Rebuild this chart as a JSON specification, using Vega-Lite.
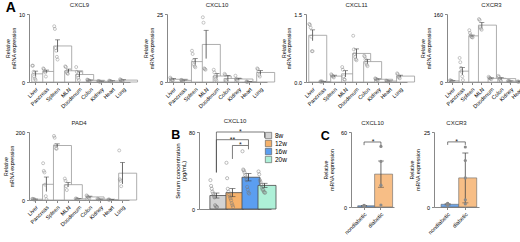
{
"$schema": "https://vega.github.io/schema/vega-lite/v6.json",
"background": "white",
"padding": {"left": 3, "top": 1, "right": 2, "bottom": 0},
"config": {
  "font": "Liberation Sans",
  "view": {"stroke": null},
  "axis": {"labelFontSize": 5.5, "titleFontSize": 5.2, "titleFontWeight": "normal", "grid": false, "tickSize": 2.5},
  "title": {"fontSize": 6, "fontWeight": "normal", "offset": 4, "color": "#222"},
  "concat": {"spacing": 4}
},
"datasets": {
  "tb": [
    {"g":"CXCL9","t":"Liver","m":1.2,"lo":0.8,"hi":1.6},
    {"g":"CXCL9","t":"Pancreas","m":1.55,"lo":1.35,"hi":1.75},
    {"g":"CXCL9","t":"Spleen","m":5.3,"lo":4.4,"hi":6.2},
    {"g":"CXCL9","t":"MLN","m":1.65,"lo":1.4,"hi":1.9},
    {"g":"CXCL9","t":"Duodenum","m":1.1,"lo":0.7,"hi":1.5},
    {"g":"CXCL9","t":"Colon","m":0.25,"lo":0.2,"hi":0.3},
    {"g":"CXCL9","t":"Kidney","m":0.1,"lo":0.07,"hi":0.13},
    {"g":"CXCL9","t":"Heart","m":0.15,"lo":0.12,"hi":0.18},
    {"g":"CXCL9","t":"Lung","m":0.28,"lo":0.22,"hi":0.34},
    {"g":"CXCL10","t":"Liver","m":1.0,"lo":0.7,"hi":1.3},
    {"g":"CXCL10","t":"Pancreas","m":0.6,"lo":0.45,"hi":0.75},
    {"g":"CXCL10","t":"Spleen","m":7.5,"lo":6.4,"hi":8.6},
    {"g":"CXCL10","t":"MLN","m":13.8,"lo":8.6,"hi":19.0},
    {"g":"CXCL10","t":"Duodenum","m":2.2,"lo":1.3,"hi":3.1},
    {"g":"CXCL10","t":"Colon","m":1.3,"lo":0.3,"hi":2.4},
    {"g":"CXCL10","t":"Kidney","m":1.1,"lo":0.8,"hi":1.4},
    {"g":"CXCL10","t":"Heart","m":0.1,"lo":0.05,"hi":0.15},
    {"g":"CXCL10","t":"Lung","m":3.5,"lo":2.8,"hi":4.2},
    {"g":"CXCL11","t":"Liver","m":1.03,"lo":0.91,"hi":1.15},
    {"g":"CXCL11","t":"Pancreas","m":0.01,"lo":0.005,"hi":0.015},
    {"g":"CXCL11","t":"Spleen","m":0.13,"lo":0.11,"hi":0.15},
    {"g":"CXCL11","t":"MLN","m":0.18,"lo":0.11,"hi":0.25},
    {"g":"CXCL11","t":"Duodenum","m":0.63,"lo":0.53,"hi":0.73},
    {"g":"CXCL11","t":"Colon","m":0.45,"lo":0.4,"hi":0.5},
    {"g":"CXCL11","t":"Kidney","m":0.06,"lo":0.05,"hi":0.07},
    {"g":"CXCL11","t":"Heart","m":0.02,"lo":0.015,"hi":0.025},
    {"g":"CXCL11","t":"Lung","m":0.13,"lo":0.11,"hi":0.15},
    {"g":"CXCR3","t":"Liver","m":1.2,"lo":0.9,"hi":1.5},
    {"g":"CXCR3","t":"Pancreas","m":11.5,"lo":7.5,"hi":15.5},
    {"g":"CXCR3","t":"Spleen","m":52,"lo":48,"hi":56},
    {"g":"CXCR3","t":"MLN","m":105,"lo":92,"hi":118},
    {"g":"CXCR3","t":"Duodenum","m":3.9,"lo":3.4,"hi":4.4},
    {"g":"CXCR3","t":"Colon","m":3.6,"lo":2.6,"hi":4.6},
    {"g":"CXCR3","t":"Kidney","m":0.9,"lo":0.7,"hi":1.1},
    {"g":"CXCR3","t":"Heart","m":0.4,"lo":0.3,"hi":0.5},
    {"g":"CXCR3","t":"Lung","m":11.5,"lo":9.5,"hi":13.5},
    {"g":"PAD4","t":"Liver","m":1.0,"lo":0.8,"hi":1.2},
    {"g":"PAD4","t":"Pancreas","m":20.5,"lo":11,"hi":30},
    {"g":"PAD4","t":"Spleen","m":118,"lo":108,"hi":128},
    {"g":"PAD4","t":"MLN","m":20,"lo":17,"hi":23},
    {"g":"PAD4","t":"Duodenum","m":1.5,"lo":1.1,"hi":1.9},
    {"g":"PAD4","t":"Colon","m":4,"lo":3,"hi":5},
    {"g":"PAD4","t":"Kidney","m":1.0,"lo":0.7,"hi":1.3},
    {"g":"PAD4","t":"Heart","m":0.5,"lo":0.4,"hi":0.6},
    {"g":"PAD4","t":"Lung","m":35,"lo":21,"hi":49}
  ],
  "tp": [
    {"g":"CXCL9","t":"Liver","r":1,"v":2.4},{"g":"CXCL9","t":"Liver","r":2,"v":2.4},{"g":"CXCL9","t":"Liver","r":3,"v":1.5},{"g":"CXCL9","t":"Liver","r":4,"v":0.8},{"g":"CXCL9","t":"Liver","r":5,"v":0.5},{"g":"CXCL9","t":"Liver","r":6,"v":0.3},
    {"g":"CXCL9","t":"Pancreas","r":1,"v":2.0},{"g":"CXCL9","t":"Pancreas","r":2,"v":1.9},{"g":"CXCL9","t":"Pancreas","r":3,"v":1.6},{"g":"CXCL9","t":"Pancreas","r":4,"v":1.4},{"g":"CXCL9","t":"Pancreas","r":5,"v":0.8},
    {"g":"CXCL9","t":"Spleen","r":1,"v":8.2},{"g":"CXCL9","t":"Spleen","r":2,"v":7.8},{"g":"CXCL9","t":"Spleen","r":3,"v":5.0},{"g":"CXCL9","t":"Spleen","r":4,"v":4.6},{"g":"CXCL9","t":"Spleen","r":5,"v":3.7},{"g":"CXCL9","t":"Spleen","r":6,"v":3.3},
    {"g":"CXCL9","t":"MLN","r":1,"v":2.3},{"g":"CXCL9","t":"MLN","r":2,"v":2.2},{"g":"CXCL9","t":"MLN","r":3,"v":1.5},{"g":"CXCL9","t":"MLN","r":4,"v":1.3},{"g":"CXCL9","t":"MLN","r":5,"v":1.2},
    {"g":"CXCL9","t":"Duodenum","r":1,"v":2.2},{"g":"CXCL9","t":"Duodenum","r":2,"v":1.5},{"g":"CXCL9","t":"Duodenum","r":3,"v":1.0},{"g":"CXCL9","t":"Duodenum","r":4,"v":0.6},{"g":"CXCL9","t":"Duodenum","r":5,"v":0.3},
    {"g":"CXCL9","t":"Colon","r":1,"v":0.35},{"g":"CXCL9","t":"Colon","r":2,"v":0.3},{"g":"CXCL9","t":"Colon","r":3,"v":0.25},{"g":"CXCL9","t":"Colon","r":4,"v":0.2},{"g":"CXCL9","t":"Colon","r":5,"v":0.15},
    {"g":"CXCL9","t":"Kidney","r":1,"v":0.15},{"g":"CXCL9","t":"Kidney","r":2,"v":0.1},{"g":"CXCL9","t":"Kidney","r":3,"v":0.08},{"g":"CXCL9","t":"Kidney","r":4,"v":0.05},
    {"g":"CXCL9","t":"Heart","r":1,"v":0.2},{"g":"CXCL9","t":"Heart","r":2,"v":0.15},{"g":"CXCL9","t":"Heart","r":3,"v":0.12},{"g":"CXCL9","t":"Heart","r":4,"v":0.1},
    {"g":"CXCL9","t":"Lung","r":1,"v":0.4},{"g":"CXCL9","t":"Lung","r":2,"v":0.3},{"g":"CXCL9","t":"Lung","r":3,"v":0.25},{"g":"CXCL9","t":"Lung","r":4,"v":0.2},{"g":"CXCL9","t":"Lung","r":5,"v":0.15},
    {"g":"CXCL10","t":"Liver","r":1,"v":1.6},{"g":"CXCL10","t":"Liver","r":2,"v":1.2},{"g":"CXCL10","t":"Liver","r":3,"v":0.9},{"g":"CXCL10","t":"Liver","r":4,"v":0.7},{"g":"CXCL10","t":"Liver","r":5,"v":0.6},
    {"g":"CXCL10","t":"Pancreas","r":1,"v":0.8},{"g":"CXCL10","t":"Pancreas","r":2,"v":0.6},{"g":"CXCL10","t":"Pancreas","r":3,"v":0.5},{"g":"CXCL10","t":"Pancreas","r":4,"v":0.4},
    {"g":"CXCL10","t":"Spleen","r":1,"v":11.5},{"g":"CXCL10","t":"Spleen","r":2,"v":10.3},{"g":"CXCL10","t":"Spleen","r":3,"v":7.8},{"g":"CXCL10","t":"Spleen","r":4,"v":6.4},{"g":"CXCL10","t":"Spleen","r":5,"v":5.8},{"g":"CXCL10","t":"Spleen","r":6,"v":5.4},
    {"g":"CXCL10","t":"MLN","r":1,"v":23.8},{"g":"CXCL10","t":"MLN","r":2,"v":21.8},{"g":"CXCL10","t":"MLN","r":3,"v":5.0},{"g":"CXCL10","t":"MLN","r":4,"v":4.8},{"g":"CXCL10","t":"MLN","r":5,"v":4.5},
    {"g":"CXCL10","t":"Duodenum","r":1,"v":4.5},{"g":"CXCL10","t":"Duodenum","r":2,"v":3.5},{"g":"CXCL10","t":"Duodenum","r":3,"v":2.0},{"g":"CXCL10","t":"Duodenum","r":4,"v":1.0},{"g":"CXCL10","t":"Duodenum","r":5,"v":0.5},
    {"g":"CXCL10","t":"Colon","r":1,"v":3.0},{"g":"CXCL10","t":"Colon","r":2,"v":2.6},{"g":"CXCL10","t":"Colon","r":3,"v":0.5},{"g":"CXCL10","t":"Colon","r":4,"v":0.2},
    {"g":"CXCL10","t":"Kidney","r":1,"v":2.3},{"g":"CXCL10","t":"Kidney","r":2,"v":1.2},{"g":"CXCL10","t":"Kidney","r":3,"v":0.8},{"g":"CXCL10","t":"Kidney","r":4,"v":0.6},
    {"g":"CXCL10","t":"Heart","r":1,"v":0.15},{"g":"CXCL10","t":"Heart","r":2,"v":0.1},{"g":"CXCL10","t":"Heart","r":3,"v":0.05},
    {"g":"CXCL10","t":"Lung","r":1,"v":5.0},{"g":"CXCL10","t":"Lung","r":2,"v":4.7},{"g":"CXCL10","t":"Lung","r":3,"v":3.8},{"g":"CXCL10","t":"Lung","r":4,"v":2.5},{"g":"CXCL10","t":"Lung","r":5,"v":2.0},
    {"g":"CXCL11","t":"Liver","r":1,"v":1.28},{"g":"CXCL11","t":"Liver","r":2,"v":1.26},{"g":"CXCL11","t":"Liver","r":3,"v":1.2},{"g":"CXCL11","t":"Liver","r":4,"v":1.0},{"g":"CXCL11","t":"Liver","r":5,"v":0.68},{"g":"CXCL11","t":"Liver","r":6,"v":0.68},
    {"g":"CXCL11","t":"Pancreas","r":1,"v":0.01},{"g":"CXCL11","t":"Pancreas","r":2,"v":0.01},{"g":"CXCL11","t":"Pancreas","r":3,"v":0.01},{"g":"CXCL11","t":"Pancreas","r":4,"v":0.01},
    {"g":"CXCL11","t":"Spleen","r":1,"v":0.17},{"g":"CXCL11","t":"Spleen","r":2,"v":0.15},{"g":"CXCL11","t":"Spleen","r":3,"v":0.13},{"g":"CXCL11","t":"Spleen","r":4,"v":0.12},{"g":"CXCL11","t":"Spleen","r":5,"v":0.1},
    {"g":"CXCL11","t":"MLN","r":1,"v":0.33},{"g":"CXCL11","t":"MLN","r":2,"v":0.27},{"g":"CXCL11","t":"MLN","r":3,"v":0.12},{"g":"CXCL11","t":"MLN","r":4,"v":0.06},{"g":"CXCL11","t":"MLN","r":5,"v":0.05},
    {"g":"CXCL11","t":"Duodenum","r":1,"v":1.02},{"g":"CXCL11","t":"Duodenum","r":2,"v":0.72},{"g":"CXCL11","t":"Duodenum","r":3,"v":0.62},{"g":"CXCL11","t":"Duodenum","r":4,"v":0.55},{"g":"CXCL11","t":"Duodenum","r":5,"v":0.5},{"g":"CXCL11","t":"Duodenum","r":6,"v":0.48},
    {"g":"CXCL11","t":"Colon","r":1,"v":0.58},{"g":"CXCL11","t":"Colon","r":2,"v":0.56},{"g":"CXCL11","t":"Colon","r":3,"v":0.5},{"g":"CXCL11","t":"Colon","r":4,"v":0.42},{"g":"CXCL11","t":"Colon","r":5,"v":0.38},{"g":"CXCL11","t":"Colon","r":6,"v":0.35},
    {"g":"CXCL11","t":"Kidney","r":1,"v":0.08},{"g":"CXCL11","t":"Kidney","r":2,"v":0.07},{"g":"CXCL11","t":"Kidney","r":3,"v":0.06},{"g":"CXCL11","t":"Kidney","r":4,"v":0.05},{"g":"CXCL11","t":"Kidney","r":5,"v":0.04},
    {"g":"CXCL11","t":"Heart","r":1,"v":0.03},{"g":"CXCL11","t":"Heart","r":2,"v":0.02},{"g":"CXCL11","t":"Heart","r":3,"v":0.02},{"g":"CXCL11","t":"Heart","r":4,"v":0.01},
    {"g":"CXCL11","t":"Lung","r":1,"v":0.19},{"g":"CXCL11","t":"Lung","r":2,"v":0.17},{"g":"CXCL11","t":"Lung","r":3,"v":0.12},{"g":"CXCL11","t":"Lung","r":4,"v":0.1},{"g":"CXCL11","t":"Lung","r":5,"v":0.08},
    {"g":"CXCR3","t":"Liver","r":1,"v":1.8},{"g":"CXCR3","t":"Liver","r":2,"v":1.5},{"g":"CXCR3","t":"Liver","r":3,"v":1.2},{"g":"CXCR3","t":"Liver","r":4,"v":0.9},{"g":"CXCR3","t":"Liver","r":5,"v":0.6},
    {"g":"CXCR3","t":"Pancreas","r":1,"v":25.5},{"g":"CXCR3","t":"Pancreas","r":2,"v":21},{"g":"CXCR3","t":"Pancreas","r":3,"v":15},{"g":"CXCR3","t":"Pancreas","r":4,"v":11},{"g":"CXCR3","t":"Pancreas","r":5,"v":6},{"g":"CXCR3","t":"Pancreas","r":6,"v":2},
    {"g":"CXCR3","t":"Spleen","r":1,"v":80},{"g":"CXCR3","t":"Spleen","r":2,"v":66},{"g":"CXCR3","t":"Spleen","r":3,"v":55},{"g":"CXCR3","t":"Spleen","r":4,"v":48},{"g":"CXCR3","t":"Spleen","r":5,"v":46},{"g":"CXCR3","t":"Spleen","r":6,"v":44},
    {"g":"CXCR3","t":"MLN","r":1,"v":135},{"g":"CXCR3","t":"MLN","r":2,"v":130},{"g":"CXCR3","t":"MLN","r":3,"v":95},{"g":"CXCR3","t":"MLN","r":4,"v":88},{"g":"CXCR3","t":"MLN","r":5,"v":82},
    {"g":"CXCR3","t":"Duodenum","r":1,"v":5.5},{"g":"CXCR3","t":"Duodenum","r":2,"v":4.5},{"g":"CXCR3","t":"Duodenum","r":3,"v":4.0},{"g":"CXCR3","t":"Duodenum","r":4,"v":3.5},{"g":"CXCR3","t":"Duodenum","r":5,"v":3.0},
    {"g":"CXCR3","t":"Colon","r":1,"v":6.5},{"g":"CXCR3","t":"Colon","r":2,"v":5.5},{"g":"CXCR3","t":"Colon","r":3,"v":3.5},{"g":"CXCR3","t":"Colon","r":4,"v":2.0},{"g":"CXCR3","t":"Colon","r":5,"v":1.0},
    {"g":"CXCR3","t":"Kidney","r":1,"v":1.2},{"g":"CXCR3","t":"Kidney","r":2,"v":1.0},{"g":"CXCR3","t":"Kidney","r":3,"v":0.8},{"g":"CXCR3","t":"Kidney","r":4,"v":0.6},
    {"g":"CXCR3","t":"Heart","r":1,"v":0.5},{"g":"CXCR3","t":"Heart","r":2,"v":0.4},{"g":"CXCR3","t":"Heart","r":3,"v":0.3},
    {"g":"CXCR3","t":"Lung","r":1,"v":16},{"g":"CXCR3","t":"Lung","r":2,"v":15},{"g":"CXCR3","t":"Lung","r":3,"v":13},{"g":"CXCR3","t":"Lung","r":4,"v":11},{"g":"CXCR3","t":"Lung","r":5,"v":7},{"g":"CXCR3","t":"Lung","r":6,"v":6},
    {"g":"PAD4","t":"Liver","r":1,"v":1.5},{"g":"PAD4","t":"Liver","r":2,"v":1.2},{"g":"PAD4","t":"Liver","r":3,"v":1.0},{"g":"PAD4","t":"Liver","r":4,"v":0.8},{"g":"PAD4","t":"Liver","r":5,"v":0.5},
    {"g":"PAD4","t":"Pancreas","r":1,"v":48},{"g":"PAD4","t":"Pancreas","r":2,"v":38},{"g":"PAD4","t":"Pancreas","r":3,"v":36},{"g":"PAD4","t":"Pancreas","r":4,"v":20},{"g":"PAD4","t":"Pancreas","r":5,"v":5},{"g":"PAD4","t":"Pancreas","r":6,"v":1},
    {"g":"PAD4","t":"Spleen","r":1,"v":176},{"g":"PAD4","t":"Spleen","r":2,"v":165},{"g":"PAD4","t":"Spleen","r":3,"v":120},{"g":"PAD4","t":"Spleen","r":4,"v":100},{"g":"PAD4","t":"Spleen","r":5,"v":98},
    {"g":"PAD4","t":"MLN","r":1,"v":28},{"g":"PAD4","t":"MLN","r":2,"v":25},{"g":"PAD4","t":"MLN","r":3,"v":18},{"g":"PAD4","t":"MLN","r":4,"v":13},
    {"g":"PAD4","t":"Duodenum","r":1,"v":2.0},{"g":"PAD4","t":"Duodenum","r":2,"v":1.5},{"g":"PAD4","t":"Duodenum","r":3,"v":1.2},{"g":"PAD4","t":"Duodenum","r":4,"v":1.0},
    {"g":"PAD4","t":"Colon","r":1,"v":6},{"g":"PAD4","t":"Colon","r":2,"v":5},{"g":"PAD4","t":"Colon","r":3,"v":4},{"g":"PAD4","t":"Colon","r":4,"v":3},{"g":"PAD4","t":"Colon","r":5,"v":2},
    {"g":"PAD4","t":"Kidney","r":1,"v":1.5},{"g":"PAD4","t":"Kidney","r":2,"v":1.0},{"g":"PAD4","t":"Kidney","r":3,"v":0.8},
    {"g":"PAD4","t":"Heart","r":1,"v":0.6},{"g":"PAD4","t":"Heart","r":2,"v":0.5},{"g":"PAD4","t":"Heart","r":3,"v":0.4},
    {"g":"PAD4","t":"Lung","r":1,"v":88},{"g":"PAD4","t":"Lung","r":2,"v":27},{"g":"PAD4","t":"Lung","r":3,"v":25},{"g":"PAD4","t":"Lung","r":4,"v":18}
  ],
  "bb": [
    {"t":"8w","m":14,"lo":11.4,"hi":16.6},
    {"t":"12w","m":17,"lo":12.8,"hi":21.2},
    {"t":"16w","m":33,"lo":29.2,"hi":36.8},
    {"t":"20w","m":24.5,"lo":22.3,"hi":26.7}
  ],
  "bp": [
    {"t":"8w","r":1,"v":30},{"t":"8w","r":2,"v":24},{"t":"8w","r":3,"v":21},{"t":"8w","r":4,"v":18},{"t":"8w","r":5,"v":16},{"t":"8w","r":6,"v":14},{"t":"8w","r":7,"v":12},{"t":"8w","r":8,"v":4},{"t":"8w","r":9,"v":3},{"t":"8w","r":10,"v":2},{"t":"8w","r":11,"v":2},
    {"t":"12w","r":1,"v":48},{"t":"12w","r":2,"v":32},{"t":"12w","r":3,"v":21},{"t":"12w","r":4,"v":18},{"t":"12w","r":5,"v":15},{"t":"12w","r":6,"v":13},{"t":"12w","r":7,"v":11},{"t":"12w","r":8,"v":9},{"t":"12w","r":9,"v":6},{"t":"12w","r":10,"v":4},{"t":"12w","r":11,"v":2},
    {"t":"16w","r":1,"v":60},{"t":"16w","r":2,"v":41},{"t":"16w","r":3,"v":40},{"t":"16w","r":4,"v":38},{"t":"16w","r":5,"v":35},{"t":"16w","r":6,"v":33},{"t":"16w","r":7,"v":30},{"t":"16w","r":8,"v":23},{"t":"16w","r":9,"v":20},{"t":"16w","r":10,"v":17},{"t":"16w","r":11,"v":16},
    {"t":"20w","r":1,"v":39},{"t":"20w","r":2,"v":36},{"t":"20w","r":3,"v":30},{"t":"20w","r":4,"v":28},{"t":"20w","r":5,"v":25},{"t":"20w","r":6,"v":22},{"t":"20w","r":7,"v":20},{"t":"20w","r":8,"v":20},{"t":"20w","r":9,"v":18},{"t":"20w","r":10,"v":17},{"t":"20w","r":11,"v":17}
  ],
  "bh": [
    {"from":"8w","to":"20w","lvl":80},
    {"from":"8w","to":"16w","lvl":72},
    {"from":"12w","to":"16w","lvl":66}
  ],
  "bl": [
    {"at":"8w","lvl":80,"low":38},{"at":"20w","lvl":80,"low":74},
    {"at":"8w","lvl":72,"low":38},{"at":"16w","lvl":72,"low":66},
    {"at":"12w","lvl":66,"low":52},{"at":"16w","lvl":66,"low":62}
  ],
  "bs": [
    {"at":"12w","lvl":80,"lab":"*","mid":1},
    {"at":"12w","lvl":72,"lab":"**","mid":0},
    {"at":"12w","lvl":66,"lab":"*","mid":1}
  ],
  "cb": [
    {"g":"CXCL10","t":"nondiabetic","m":1.0,"lo":0.8,"hi":1.2},
    {"g":"CXCL10","t":"diabetic","m":26.3,"lo":15.8,"hi":36.8},
    {"g":"CXCR3","t":"nondiabetic","m":0.9,"lo":0.7,"hi":1.1},
    {"g":"CXCR3","t":"diabetic","m":9.7,"lo":1.4,"hi":18.0}
  ],
  "cp": [
    {"g":"CXCL10","t":"nondiabetic","r":1,"v":1.3},{"g":"CXCL10","t":"nondiabetic","r":2,"v":1.1},{"g":"CXCL10","t":"nondiabetic","r":3,"v":0.9},{"g":"CXCL10","t":"nondiabetic","r":4,"v":0.7},
    {"g":"CXCL10","t":"diabetic","r":1,"v":48.5},{"g":"CXCL10","t":"diabetic","r":2,"v":36.5},{"g":"CXCL10","t":"diabetic","r":3,"v":17.5},{"g":"CXCL10","t":"diabetic","r":4,"v":1.6},
    {"g":"CXCR3","t":"nondiabetic","r":1,"v":1.2},{"g":"CXCR3","t":"nondiabetic","r":2,"v":1.1},{"g":"CXCR3","t":"nondiabetic","r":3,"v":1.0},{"g":"CXCR3","t":"nondiabetic","r":4,"v":0.8},{"g":"CXCR3","t":"nondiabetic","r":5,"v":0.6},
    {"g":"CXCR3","t":"diabetic","r":1,"v":20},{"g":"CXCR3","t":"diabetic","r":2,"v":15.5},{"g":"CXCR3","t":"diabetic","r":3,"v":9.7},{"g":"CXCR3","t":"diabetic","r":4,"v":2.4},{"g":"CXCR3","t":"diabetic","r":5,"v":1.0}
  ],
  "cs": [
    {"g":"CXCL10","lvl":52,"low":49.5,"lab":"*"},
    {"g":"CXCR3","lvl":21.7,"low":20.7,"lab":"*"}
  ]
},
"spacing": 8,
"resolve": {"scale": {"fill": "independent"}, "legend": {"fill": "independent"}},
"vconcat": [
  {
    "title": {"text": "A", "fontSize": 14, "fontWeight": "bold", "anchor": "start", "offset": -13, "color": "#000"},
    "spacing": 5,
    "hconcat": [
      {
        "width": 101, "height": 68, "title": "CXCL9",
        "layer": [
          {"data": {"name": "tb"}, "transform": [{"filter": "datum.g === 'CXCL9'"}],
           "mark": {"type": "bar", "fill": "white", "stroke": "#9a9a9a", "strokeWidth": 0.8},
           "encoding": {
             "x": {"field": "t", "type": "nominal", "scale": {"domain": ["Liver","Pancreas","Spleen","MLN","Duodenum","Colon","Kidney","Heart","Lung"], "paddingInner": 0.3, "paddingOuter": 0.25}, "axis": {"title": null, "labelAngle": -45}},
             "y": {"field": "m", "type": "quantitative", "scale": {"domain": [0, 10], "nice": false}, "axis": {"values": [0,2,4,6,8,10], "minExtent": 10, "titlePadding": 2, "titleLineHeight": 5.6, "title": ["Relative", "mRNA expression"]}}}},
          {"data": {"name": "tb"}, "transform": [{"filter": "datum.g === 'CXCL9'"}],
           "mark": {"type": "rule", "color": "#444", "strokeWidth": 0.8},
           "encoding": {"x": {"field": "t", "type": "nominal"}, "y": {"field": "lo", "type": "quantitative"}, "y2": {"field": "hi"}}},
          {"data": {"name": "tb"}, "transform": [{"filter": "datum.g === 'CXCL9'"}],
           "mark": {"type": "tick", "color": "#444", "thickness": 0.8, "size": 5},
           "encoding": {"x": {"field": "t", "type": "nominal"}, "y": {"field": "hi", "type": "quantitative"}}},
          {"data": {"name": "tp"}, "transform": [{"filter": "datum.g === 'CXCL9'"}],
           "mark": {"type": "point", "shape": "circle", "filled": false, "stroke": "#8a8a8a", "strokeWidth": 0.7, "size": 9},
           "encoding": {"x": {"field": "t", "type": "nominal"}, "xOffset": {"field": "r", "type": "nominal", "scale": {"paddingOuter": 0.8}}, "y": {"field": "v", "type": "quantitative"}}}
        ]
      },
      {
        "width": 100, "height": 68, "title": "CXCL10",
        "layer": [
          {"data": {"name": "tb"}, "transform": [{"filter": "datum.g === 'CXCL10'"}],
           "mark": {"type": "bar", "fill": "white", "stroke": "#9a9a9a", "strokeWidth": 0.8},
           "encoding": {
             "x": {"field": "t", "type": "nominal", "scale": {"domain": ["Liver","Pancreas","Spleen","MLN","Duodenum","Colon","Kidney","Heart","Lung"], "paddingInner": 0.3, "paddingOuter": 0.25}, "axis": {"title": null, "labelAngle": -45}},
             "y": {"field": "m", "type": "quantitative", "scale": {"domain": [0, 25], "nice": false}, "axis": {"values": [0,5,10,15,20,25], "minExtent": 10, "titlePadding": 2, "titleLineHeight": 5.6, "title": ["Relative", "mRNA expression"]}}}},
          {"data": {"name": "tb"}, "transform": [{"filter": "datum.g === 'CXCL10'"}],
           "mark": {"type": "rule", "color": "#444", "strokeWidth": 0.8},
           "encoding": {"x": {"field": "t", "type": "nominal"}, "y": {"field": "lo", "type": "quantitative"}, "y2": {"field": "hi"}}},
          {"data": {"name": "tb"}, "transform": [{"filter": "datum.g === 'CXCL10'"}],
           "mark": {"type": "tick", "color": "#444", "thickness": 0.8, "size": 5},
           "encoding": {"x": {"field": "t", "type": "nominal"}, "y": {"field": "hi", "type": "quantitative"}}},
          {"data": {"name": "tp"}, "transform": [{"filter": "datum.g === 'CXCL10'"}],
           "mark": {"type": "point", "shape": "circle", "filled": false, "stroke": "#8a8a8a", "strokeWidth": 0.7, "size": 9},
           "encoding": {"x": {"field": "t", "type": "nominal"}, "xOffset": {"field": "r", "type": "nominal", "scale": {"paddingOuter": 0.8}}, "y": {"field": "v", "type": "quantitative"}}}
        ]
      },
      {
        "width": 101, "height": 68, "title": "CXCL11",
        "layer": [
          {"data": {"name": "tb"}, "transform": [{"filter": "datum.g === 'CXCL11'"}],
           "mark": {"type": "bar", "fill": "white", "stroke": "#9a9a9a", "strokeWidth": 0.8},
           "encoding": {
             "x": {"field": "t", "type": "nominal", "scale": {"domain": ["Liver","Pancreas","Spleen","MLN","Duodenum","Colon","Kidney","Heart","Lung"], "paddingInner": 0.3, "paddingOuter": 0.25}, "axis": {"title": null, "labelAngle": -45}},
             "y": {"field": "m", "type": "quantitative", "scale": {"domain": [0, 1.5], "nice": false}, "axis": {"values": [0,0.5,1,1.5], "format": ".1f", "minExtent": 11.5, "titlePadding": 2, "titleLineHeight": 5.6, "title": ["Relative", "mRNA expression"]}}}},
          {"data": {"name": "tb"}, "transform": [{"filter": "datum.g === 'CXCL11'"}],
           "mark": {"type": "rule", "color": "#444", "strokeWidth": 0.8},
           "encoding": {"x": {"field": "t", "type": "nominal"}, "y": {"field": "lo", "type": "quantitative"}, "y2": {"field": "hi"}}},
          {"data": {"name": "tb"}, "transform": [{"filter": "datum.g === 'CXCL11'"}],
           "mark": {"type": "tick", "color": "#444", "thickness": 0.8, "size": 5},
           "encoding": {"x": {"field": "t", "type": "nominal"}, "y": {"field": "hi", "type": "quantitative"}}},
          {"data": {"name": "tp"}, "transform": [{"filter": "datum.g === 'CXCL11'"}],
           "mark": {"type": "point", "shape": "circle", "filled": false, "stroke": "#8a8a8a", "strokeWidth": 0.7, "size": 9},
           "encoding": {"x": {"field": "t", "type": "nominal"}, "xOffset": {"field": "r", "type": "nominal", "scale": {"paddingOuter": 0.8}}, "y": {"field": "v", "type": "quantitative"}}}
        ]
      },
      {
        "width": 89, "height": 68, "title": "CXCR3",
        "layer": [
          {"data": {"name": "tb"}, "transform": [{"filter": "datum.g === 'CXCR3'"}],
           "mark": {"type": "bar", "fill": "white", "stroke": "#9a9a9a", "strokeWidth": 0.8},
           "encoding": {
             "x": {"field": "t", "type": "nominal", "scale": {"domain": ["Liver","Pancreas","Spleen","MLN","Duodenum","Colon","Kidney","Heart","Lung"], "paddingInner": 0.3, "paddingOuter": 0.25}, "axis": {"title": null, "labelAngle": -45}},
             "y": {"field": "m", "type": "quantitative", "scale": {"domain": [0, 40, 40.001, 160], "range": [68, 30.3, 24.3, 0], "nice": false, "zero": false}, "axis": {"values": [0,10,20,30,40,40.001,80,120,160], "format": ".0f", "labelOverlap": false, "minExtent": 13, "titlePadding": 2, "titleLineHeight": 5.6, "title": ["Relative", "mRNA expression"]}}}},
          {"data": {"name": "tb"}, "transform": [{"filter": "datum.g === 'CXCR3'"}],
           "mark": {"type": "rule", "color": "#444", "strokeWidth": 0.8},
           "encoding": {"x": {"field": "t", "type": "nominal"}, "y": {"field": "lo", "type": "quantitative"}, "y2": {"field": "hi"}}},
          {"data": {"name": "tb"}, "transform": [{"filter": "datum.g === 'CXCR3'"}],
           "mark": {"type": "tick", "color": "#444", "thickness": 0.8, "size": 5},
           "encoding": {"x": {"field": "t", "type": "nominal"}, "y": {"field": "hi", "type": "quantitative"}}},
          {"data": {"name": "tp"}, "transform": [{"filter": "datum.g === 'CXCR3'"}],
           "mark": {"type": "point", "shape": "circle", "filled": false, "stroke": "#8a8a8a", "strokeWidth": 0.7, "size": 9},
           "encoding": {"x": {"field": "t", "type": "nominal"}, "xOffset": {"field": "r", "type": "nominal", "scale": {"paddingOuter": 0.8}}, "y": {"field": "v", "type": "quantitative"}}}
        ]
      }
    ]
  },
  {
    "spacing": 33,
    "resolve": {"scale": {"fill": "independent"}, "legend": {"fill": "independent"}},
    "hconcat": [
      {
        "width": 100, "height": 68, "title": "PAD4",
        "layer": [
          {"data": {"name": "tb"}, "transform": [{"filter": "datum.g === 'PAD4'"}],
           "mark": {"type": "bar", "fill": "white", "stroke": "#9a9a9a", "strokeWidth": 0.8},
           "encoding": {
             "x": {"field": "t", "type": "nominal", "scale": {"domain": ["Liver","Pancreas","Spleen","MLN","Duodenum","Colon","Kidney","Heart","Lung"], "paddingInner": 0.3, "paddingOuter": 0.25}, "axis": {"title": null, "labelAngle": -45}},
             "y": {"field": "m", "type": "quantitative", "scale": {"domain": [0, 50, 50.001, 200], "range": [68, 29.7, 24.7, 0], "nice": false, "zero": false}, "axis": {"values": [0,10,20,30,40,50,50.001,100,150,200], "format": ".0f", "labelOverlap": false, "minExtent": 13, "titlePadding": 1, "titleLineHeight": 5.6, "title": ["Relative", "mRNA expression"]}}}},
          {"data": {"name": "tb"}, "transform": [{"filter": "datum.g === 'PAD4'"}],
           "mark": {"type": "rule", "color": "#444", "strokeWidth": 0.8},
           "encoding": {"x": {"field": "t", "type": "nominal"}, "y": {"field": "lo", "type": "quantitative"}, "y2": {"field": "hi"}}},
          {"data": {"name": "tb"}, "transform": [{"filter": "datum.g === 'PAD4'"}],
           "mark": {"type": "tick", "color": "#444", "thickness": 0.8, "size": 5},
           "encoding": {"x": {"field": "t", "type": "nominal"}, "y": {"field": "hi", "type": "quantitative"}}},
          {"data": {"name": "tp"}, "transform": [{"filter": "datum.g === 'PAD4'"}],
           "mark": {"type": "point", "shape": "circle", "filled": false, "stroke": "#8a8a8a", "strokeWidth": 0.7, "size": 9},
           "encoding": {"x": {"field": "t", "type": "nominal"}, "xOffset": {"field": "r", "type": "nominal", "scale": {"paddingOuter": 0.8}}, "y": {"field": "v", "type": "quantitative"}}}
        ]
      },
      {
        "spacing": 33,
        "resolve": {"scale": {"fill": "independent"}, "legend": {"fill": "independent"}},
        "hconcat": [
          {
            "title": {"text": "B", "fontSize": 12.5, "fontWeight": "bold", "anchor": "start", "offset": -23.5, "dx": -3, "color": "#000"},
            "resolve": {"scale": {"fill": "independent"}, "legend": {"fill": "independent"}},
            "hconcat": [
              {
                "width": 72, "height": 77, "title": "CXCL10",
                "layer": [
                  {"data": {"name": "bb"},
                   "mark": {"type": "bar", "stroke": "#4a4a4a", "strokeWidth": 0.8},
                   "encoding": {
                     "x": {"field": "t", "type": "nominal", "scale": {"domain": ["8w","12w","16w","20w"], "paddingInner": 0.19, "paddingOuter": 0.34, "align": 1}, "axis": {"title": null, "labels": false, "ticks": false}},
                     "y": {"field": "m", "type": "quantitative", "scale": {"domain": [0, 80], "nice": false}, "axis": {"values": [0,20,40,60,80], "minExtent": 10, "titlePadding": 2, "title": ["Serum concentration", "(pg/mL)"], "titleFontSize": 6, "titleLineHeight": 6.2}},
                     "fill": {"field": "t", "type": "nominal", "scale": {"domain": ["8w","12w","16w","20w"], "range": ["#d3d3d3","#f6b26b","#5b9ef0","#aef0d8"]},
                       "legend": {"orient": "none", "legendX": 66, "legendY": 0, "title": null, "symbolType": "square", "symbolSize": 40, "labelFontSize": 6.5, "rowPadding": -1, "symbolStrokeColor": "#555", "symbolStrokeWidth": 0.6, "labelOffset": 3, "padding": 0}}}},
                  {"data": {"name": "bb"},
                   "mark": {"type": "rule", "color": "#333", "strokeWidth": 0.8},
                   "encoding": {"x": {"field": "t", "type": "nominal"}, "y": {"field": "lo", "type": "quantitative"}, "y2": {"field": "hi"}}},
                  {"data": {"name": "bb"},
                   "mark": {"type": "tick", "color": "#333", "thickness": 0.8, "size": 6},
                   "encoding": {"x": {"field": "t", "type": "nominal"}, "y": {"field": "hi", "type": "quantitative"}}},
                  {"data": {"name": "bb"},
                   "mark": {"type": "tick", "color": "#333", "thickness": 0.8, "size": 6},
                   "encoding": {"x": {"field": "t", "type": "nominal"}, "y": {"field": "lo", "type": "quantitative"}}},
                  {"data": {"name": "bp"},
                   "mark": {"type": "point", "shape": "circle", "filled": false, "stroke": "#7a7a7a", "strokeWidth": 0.7, "size": 10},
                   "encoding": {"x": {"field": "t", "type": "nominal"}, "xOffset": {"field": "r", "type": "nominal", "scale": {"paddingOuter": 0.5}}, "y": {"field": "v", "type": "quantitative"}}},
                  {"data": {"name": "bh"},
                   "mark": {"type": "rule", "color": "#444", "strokeWidth": 0.7},
                   "encoding": {"x": {"field": "from", "type": "nominal"}, "x2": {"field": "to"}, "y": {"field": "lvl", "type": "quantitative"}}},
                  {"data": {"name": "bl"},
                   "mark": {"type": "rule", "color": "#444", "strokeWidth": 0.7},
                   "encoding": {"x": {"field": "at", "type": "nominal"}, "y": {"field": "lvl", "type": "quantitative"}, "y2": {"field": "low"}}},
                  {"data": {"name": "bs"}, "transform": [{"filter": "datum.mid === 1"}],
                   "mark": {"type": "text", "fontSize": 7, "baseline": "bottom", "dy": 3, "dx": 8, "color": "#222"},
                   "encoding": {"x": {"field": "at", "type": "nominal"}, "y": {"field": "lvl", "type": "quantitative"}, "text": {"field": "lab"}}},
                  {"data": {"name": "bs"}, "transform": [{"filter": "datum.mid === 0"}],
                   "mark": {"type": "text", "fontSize": 7, "baseline": "bottom", "dy": 3, "color": "#222"},
                   "encoding": {"x": {"field": "at", "type": "nominal"}, "y": {"field": "lvl", "type": "quantitative"}, "text": {"field": "lab"}}}
                ]
              }
            ]
          },
          {
            "title": {"text": "C", "fontSize": 12.5, "fontWeight": "bold", "anchor": "start", "offset": -22, "dx": -3, "color": "#000"},
            "spacing": 15,
            "hconcat": [
              {
                "width": 43, "height": 75, "title": "CXCL10",
                "layer": [
                  {"data": {"name": "cb"}, "transform": [{"filter": "datum.g === 'CXCL10'"}],
                   "mark": {"type": "bar", "stroke": "#666", "strokeWidth": 0.6},
                   "encoding": {
                     "x": {"field": "t", "type": "nominal", "scale": {"domain": ["nondiabetic","diabetic"], "paddingInner": 0.25, "paddingOuter": 0.4}, "axis": {"title": null, "labelAngle": -45}},
                     "y": {"field": "m", "type": "quantitative", "scale": {"domain": [0, 60], "nice": false}, "axis": {"values": [0,20,40,60], "minExtent": 10, "titlePadding": 6, "titleLineHeight": 5.6, "title": ["Relative", "mRNA expression"]}},
                     "fill": {"condition": {"test": "datum.t === 'diabetic'", "value": "#f7be86"}, "value": "#6ea6ea"}}},
                  {"data": {"name": "cb"}, "transform": [{"filter": "datum.g === 'CXCL10'"}],
                   "mark": {"type": "rule", "color": "#444", "strokeWidth": 0.8},
                   "encoding": {"x": {"field": "t", "type": "nominal"}, "y": {"field": "lo", "type": "quantitative"}, "y2": {"field": "hi"}}},
                  {"data": {"name": "cb"}, "transform": [{"filter": "datum.g === 'CXCL10'"}],
                   "mark": {"type": "tick", "color": "#444", "thickness": 0.8, "size": 6},
                   "encoding": {"x": {"field": "t", "type": "nominal"}, "y": {"field": "hi", "type": "quantitative"}}},
                  {"data": {"name": "cb"}, "transform": [{"filter": "datum.g === 'CXCL10'"}],
                   "mark": {"type": "tick", "color": "#444", "thickness": 0.8, "size": 6},
                   "encoding": {"x": {"field": "t", "type": "nominal"}, "y": {"field": "lo", "type": "quantitative"}}},
                  {"data": {"name": "cp"}, "transform": [{"filter": "datum.g === 'CXCL10'"}],
                   "mark": {"type": "point", "shape": "circle", "filled": true, "color": "#8a8a8a", "opacity": 1, "size": 10},
                   "encoding": {"x": {"field": "t", "type": "nominal"}, "y": {"field": "v", "type": "quantitative"}}},
                  {"data": {"name": "cs"}, "transform": [{"filter": "datum.g === 'CXCL10'"}],
                   "mark": {"type": "rule", "color": "#444", "strokeWidth": 0.7},
                   "encoding": {"x": {"datum": "nondiabetic"}, "x2": {"datum": "diabetic"}, "y": {"field": "lvl", "type": "quantitative"}}},
                  {"data": {"name": "cs"}, "transform": [{"filter": "datum.g === 'CXCL10'"}],
                   "mark": {"type": "rule", "color": "#444", "strokeWidth": 0.7},
                   "encoding": {"x": {"datum": "nondiabetic"}, "y": {"field": "lvl", "type": "quantitative"}, "y2": {"field": "low"}}},
                  {"data": {"name": "cs"}, "transform": [{"filter": "datum.g === 'CXCL10'"}],
                   "mark": {"type": "rule", "color": "#444", "strokeWidth": 0.7},
                   "encoding": {"x": {"datum": "diabetic"}, "y": {"field": "lvl", "type": "quantitative"}, "y2": {"field": "low"}}},
                  {"data": {"name": "cs"}, "transform": [{"filter": "datum.g === 'CXCL10'"}],
                   "mark": {"type": "text", "fontSize": 7, "baseline": "bottom", "dy": 3, "dx": 9, "color": "#222"},
                   "encoding": {"x": {"datum": "nondiabetic"}, "y": {"field": "lvl", "type": "quantitative"}, "text": {"field": "lab"}}}
                ]
              },
              {
                "width": 45, "height": 75, "title": "CXCR3",
                "layer": [
                  {"data": {"name": "cb"}, "transform": [{"filter": "datum.g === 'CXCR3'"}],
                   "mark": {"type": "bar", "stroke": "#666", "strokeWidth": 0.6},
                   "encoding": {
                     "x": {"field": "t", "type": "nominal", "scale": {"domain": ["nondiabetic","diabetic"], "paddingInner": 0.25, "paddingOuter": 0.4}, "axis": {"title": null, "labelAngle": -45}},
                     "y": {"field": "m", "type": "quantitative", "scale": {"domain": [0, 25], "nice": false}, "axis": {"values": [0,5,10,15,20,25], "minExtent": 10, "titlePadding": 3, "titleLineHeight": 5.6, "title": ["Relative", "mRNA expression"]}},
                     "fill": {"condition": {"test": "datum.t === 'diabetic'", "value": "#f7be86"}, "value": "#6ea6ea"}}},
                  {"data": {"name": "cb"}, "transform": [{"filter": "datum.g === 'CXCR3'"}],
                   "mark": {"type": "rule", "color": "#444", "strokeWidth": 0.8},
                   "encoding": {"x": {"field": "t", "type": "nominal"}, "y": {"field": "lo", "type": "quantitative"}, "y2": {"field": "hi"}}},
                  {"data": {"name": "cb"}, "transform": [{"filter": "datum.g === 'CXCR3'"}],
                   "mark": {"type": "tick", "color": "#444", "thickness": 0.8, "size": 6},
                   "encoding": {"x": {"field": "t", "type": "nominal"}, "y": {"field": "hi", "type": "quantitative"}}},
                  {"data": {"name": "cb"}, "transform": [{"filter": "datum.g === 'CXCR3'"}],
                   "mark": {"type": "tick", "color": "#444", "thickness": 0.8, "size": 6},
                   "encoding": {"x": {"field": "t", "type": "nominal"}, "y": {"field": "lo", "type": "quantitative"}}},
                  {"data": {"name": "cp"}, "transform": [{"filter": "datum.g === 'CXCR3'"}],
                   "mark": {"type": "point", "shape": "circle", "filled": true, "color": "#8a8a8a", "opacity": 1, "size": 10},
                   "encoding": {"x": {"field": "t", "type": "nominal"}, "y": {"field": "v", "type": "quantitative"}}},
                  {"data": {"name": "cs"}, "transform": [{"filter": "datum.g === 'CXCR3'"}],
                   "mark": {"type": "rule", "color": "#444", "strokeWidth": 0.7},
                   "encoding": {"x": {"datum": "nondiabetic"}, "x2": {"datum": "diabetic"}, "y": {"field": "lvl", "type": "quantitative"}}},
                  {"data": {"name": "cs"}, "transform": [{"filter": "datum.g === 'CXCR3'"}],
                   "mark": {"type": "rule", "color": "#444", "strokeWidth": 0.7},
                   "encoding": {"x": {"datum": "nondiabetic"}, "y": {"field": "lvl", "type": "quantitative"}, "y2": {"field": "low"}}},
                  {"data": {"name": "cs"}, "transform": [{"filter": "datum.g === 'CXCR3'"}],
                   "mark": {"type": "rule", "color": "#444", "strokeWidth": 0.7},
                   "encoding": {"x": {"datum": "diabetic"}, "y": {"field": "lvl", "type": "quantitative"}, "y2": {"field": "low"}}},
                  {"data": {"name": "cs"}, "transform": [{"filter": "datum.g === 'CXCR3'"}],
                   "mark": {"type": "text", "fontSize": 7, "baseline": "bottom", "dy": 3, "dx": 9, "color": "#222"},
                   "encoding": {"x": {"datum": "nondiabetic"}, "y": {"field": "lvl", "type": "quantitative"}, "text": {"field": "lab"}}}
                ]
              }
            ]
          }
        ]
      }
    ]
  }
]
}
